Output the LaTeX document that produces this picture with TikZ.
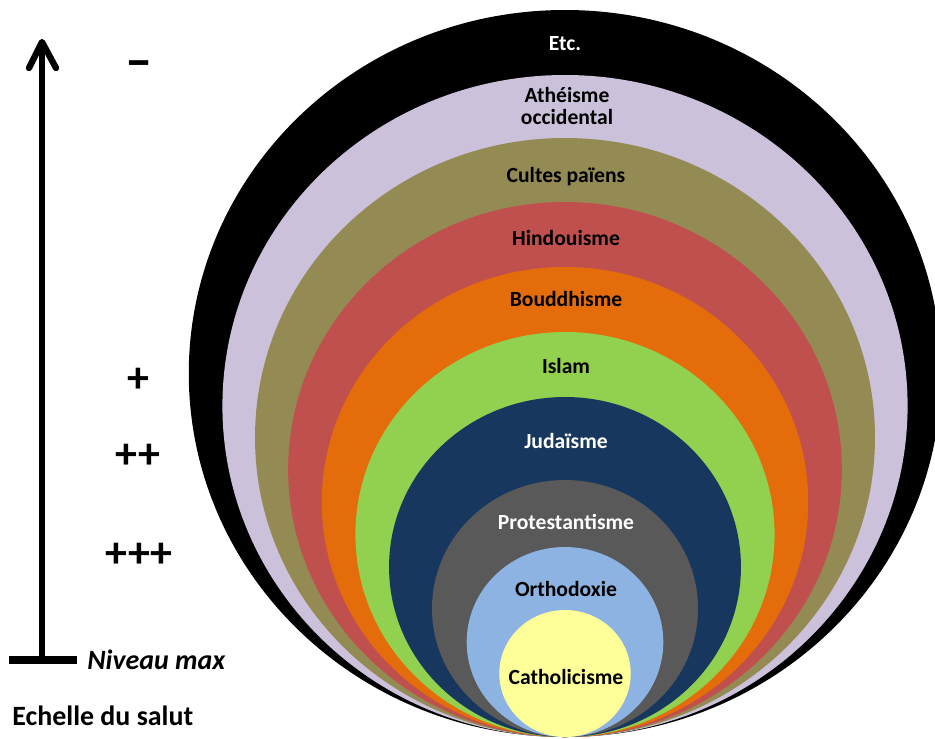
\documentclass[tikz,border=0pt]{standalone}
\usepackage{fontspec}
\setmainfont{Carlito}
\definecolor{cEtc}{HTML}{000000}
\definecolor{cAth}{HTML}{CCC1DA}
\definecolor{cCul}{HTML}{948A54}
\definecolor{cHin}{HTML}{C0504D}
\definecolor{cBou}{HTML}{E46C0A}
\definecolor{cIsl}{HTML}{92D050}
\definecolor{cJud}{HTML}{17375E}
\definecolor{cPro}{HTML}{595959}
\definecolor{cOrt}{HTML}{8DB3E2}
\definecolor{cCat}{HTML}{FFFF99}
\tikzset{
  lbl/.style={font=\bfseries\fontsize{12.3}{13}\selectfont, align=center, inner sep=0pt},
  plusmark/.style={font=\bfseries\fontsize{25}{28}\selectfont, inner sep=0pt},
  minusmark/.style={font=\bfseries\fontsize{31}{34}\selectfont, inner sep=0pt},
  side/.style={font=\bfseries\fontsize{15.9}{18}\selectfont, inner sep=0pt},
  axis/.style={line width=3.6pt},
}
\newcommand{\layer}[3]{% color, top y, ry
  \fill[#1] (565,{737-#3}) ellipse [x radius={1.035*#3}, y radius=#3];}
\begin{document}
\begin{tikzpicture}[x=0.02cm,y=-0.02cm]
\useasboundingbox (0,0) rectangle (935,738);
\clip (0,0) rectangle (935,738);
\layer{cEtc}{10}{363.5}
\layer{cAth}{75}{331}
\layer{cCul}{138}{299.5}
\layer{cHin}{202}{267.5}
\layer{cBou}{267}{235}
\layer{cIsl}{332}{202.5}
\layer{cJud}{397}{170}
\layer{cPro}{480}{128.5}
\layer{cOrt}{547}{95}
\layer{cCat}{610}{63.5}
\node[lbl, white] (etc) at (565,44) {Etc.};
\node[lbl] (ath) at (567,106) {Athéisme\\occidental};
\node[lbl] (cul) at (566,177) {Cultes païens};
\node[lbl] (hin) at (566,238) {Hindouisme};
\node[lbl] (bou) at (566,299) {Bouddhisme};
\node[lbl] (isl) at (566,366) {Islam};
\node[lbl, white] (jud) at (566,441) {Judaïsme};
\node[lbl, white] (pro) at (566,522) {Protestantisme};
\node[lbl] (ort) at (566,589) {Orthodoxie};
\node[lbl] (cat) at (566,677) {Catholicisme};
% scale
\coordinate (base) at (42,660);
\coordinate (tip) at (42,42);
\coordinate (barL) at (9,660);
\coordinate (barR) at (77,660);
\coordinate (armL) at (29,68);
\coordinate (armR) at (56,68);
\draw[axis] (base) -- (tip);
\draw[axis, line cap=round, line join=round] (armL) -- (tip) -- (armR);
\draw[line width=4.6pt] (barL) -- (barR);
\node[minusmark] (m) at (139,70) {–};
\node[plusmark] (p1) at (138,380) {+};
\node[plusmark] (p2) at (138,456) {++};
\node[plusmark] (p3) at (139,555) {+++};
\node[side, anchor=west] (niv) at (87,660) {\itshape Niveau max};
\node[side, anchor=west] (ech) at (12,716) {Echelle du salut};
\end{tikzpicture}
\end{document}
